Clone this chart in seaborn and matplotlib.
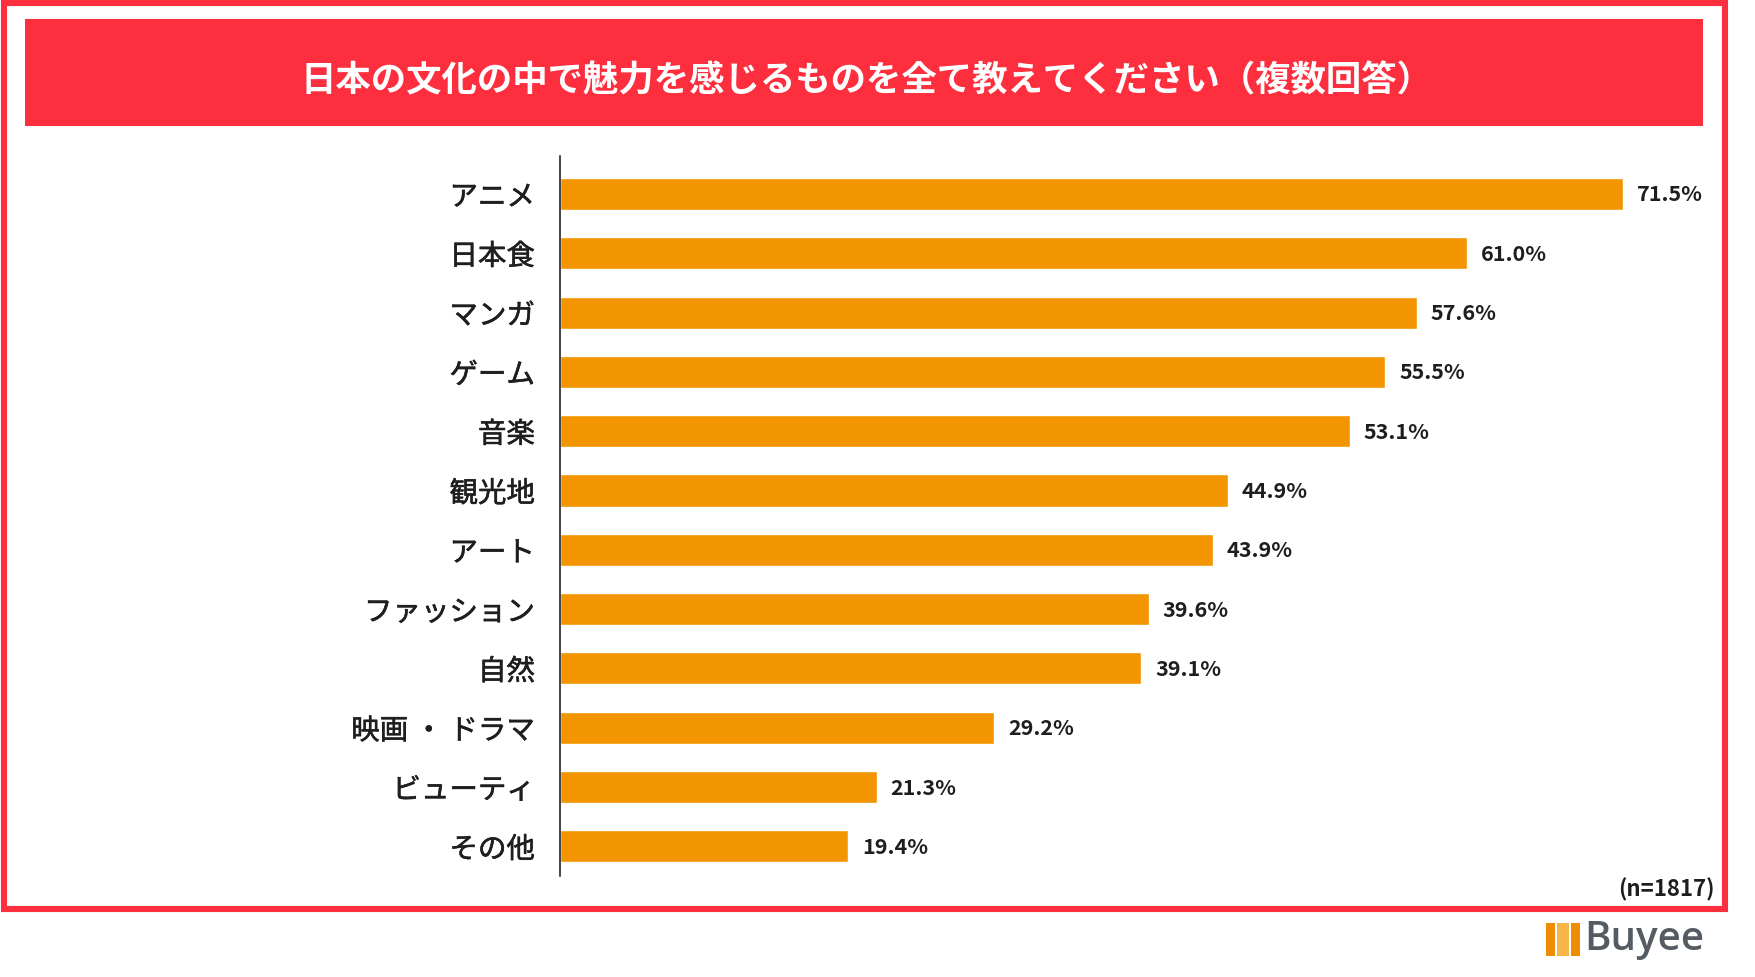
import numpy as np
import pandas as pd
import seaborn as sns
import matplotlib.pyplot as plt
import matplotlib.patheffects as pe
from matplotlib.patches import Rectangle

# ---------------------------------------------------------------------------
# Data (multiple answers, n=1817)
# ---------------------------------------------------------------------------
categories = ["アニメ", "日本食", "マンガ", "ゲーム", "音楽", "観光地", "アート",
              "ファッション", "自然", "映画 ・ ドラマ", "ビューティ", "その他"]
shares = [71.5, 61.0, 57.6, 55.5, 53.1, 44.9, 43.9, 39.6, 39.1, 29.2, 21.3, 19.4]
value_labels = [f"{v:.1f}%" for v in shares]
title = "日本の文化の中で魅力を感じるものを全て教えてください（複数回答）"
sample_note = "(n=1817)"

df = pd.DataFrame({"category": categories, "share": shares})

RED = "#FD2E3E"
ORANGE = "#F29500"
TEXT = "#1E1E1E"

sns.set_theme(style="white")
plt.rcParams["font.family"] = ["Noto Sans CJK JP", "DejaVu Sans"]

W, H = 1755, 978
fig = plt.figure(figsize=(W / 100, H / 100), dpi=100)

# axes placed in pixel terms of the reference
ax_left, ax_right, ax_top, ax_bottom = 560, 1700, 157, 877
ax = fig.add_axes([ax_left / W, 1 - ax_bottom / H,
                   (ax_right - ax_left) / W, (ax_bottom - ax_top) / H])

sns.barplot(data=df, y="category", x="share", orient="h", color=ORANGE,
            width=0.54, saturation=1, ax=ax)

ax.set_xlim(0, (ax_right - ax_left) / 14.87)
ax.set_ylim(len(categories) - 0.5, -0.64)
ax.set_xlabel("")
ax.set_ylabel("")
ax.set_xticks([])
ax.tick_params(axis="y", length=0, pad=18)
for lab in ax.get_yticklabels():
    lab.set_fontsize(20.5)
    lab.set_color(TEXT)
    # a touch heavier than regular, like the medium weight of the original
    lab.set_path_effects([pe.withStroke(linewidth=0.4, foreground=TEXT)])

for side in ["top", "right", "bottom"]:
    ax.spines[side].set_visible(False)
ax.spines["left"].set_color("#222222")
ax.spines["left"].set_linewidth(1.2)

# value labels at the end of each bar
for i, (v, txt) in enumerate(zip(shares, value_labels)):
    ax.annotate(txt, xy=(v, i), xytext=(10, 0), textcoords="offset points",
                va="center", ha="left", fontsize=15.5, fontweight="bold",
                color=TEXT)

# outer red frame
fig.patches.append(Rectangle((4 / W, 1 - 910 / H), (1725 - 4) / W, (910 - 4) / H,
                             transform=fig.transFigure, fill=False,
                             edgecolor=RED, linewidth=4.4, zorder=0))

# title banner
fig.patches.append(Rectangle((25 / W, 1 - 127 / H), (1703 - 25) / W, (127 - 20) / H,
                             transform=fig.transFigure, facecolor=RED,
                             edgecolor="none", zorder=0))
fig.text(866 / W, 1 - 81 / H, title, ha="center", va="center", color="white",
         fontsize=25.5, fontweight="bold")

# sample size
fig.text(1715 / W, 1 - 890 / H, sample_note, ha="right", va="center",
         fontsize=16, fontweight="bold", color=TEXT)

# Buyee logo
for x0, w, c in [(1546, 9, "#F08C00"), (1557, 12, "#F7B54A"), (1571, 9, "#F08C00")]:
    fig.patches.append(Rectangle((x0 / W, 1 - 957 / H), w / W, 33 / H,
                                 transform=fig.transFigure,
                                 facecolor=c, edgecolor="none"))
fig.text(1584 / W, 1 - 940 / H, "Buyee", ha="left", va="center",
         fontsize=29, fontweight="semibold", color="#555B62",
         family=["Open Sans", "DejaVu Sans"])

fig.savefig("out.png", dpi=100, facecolor="white")
